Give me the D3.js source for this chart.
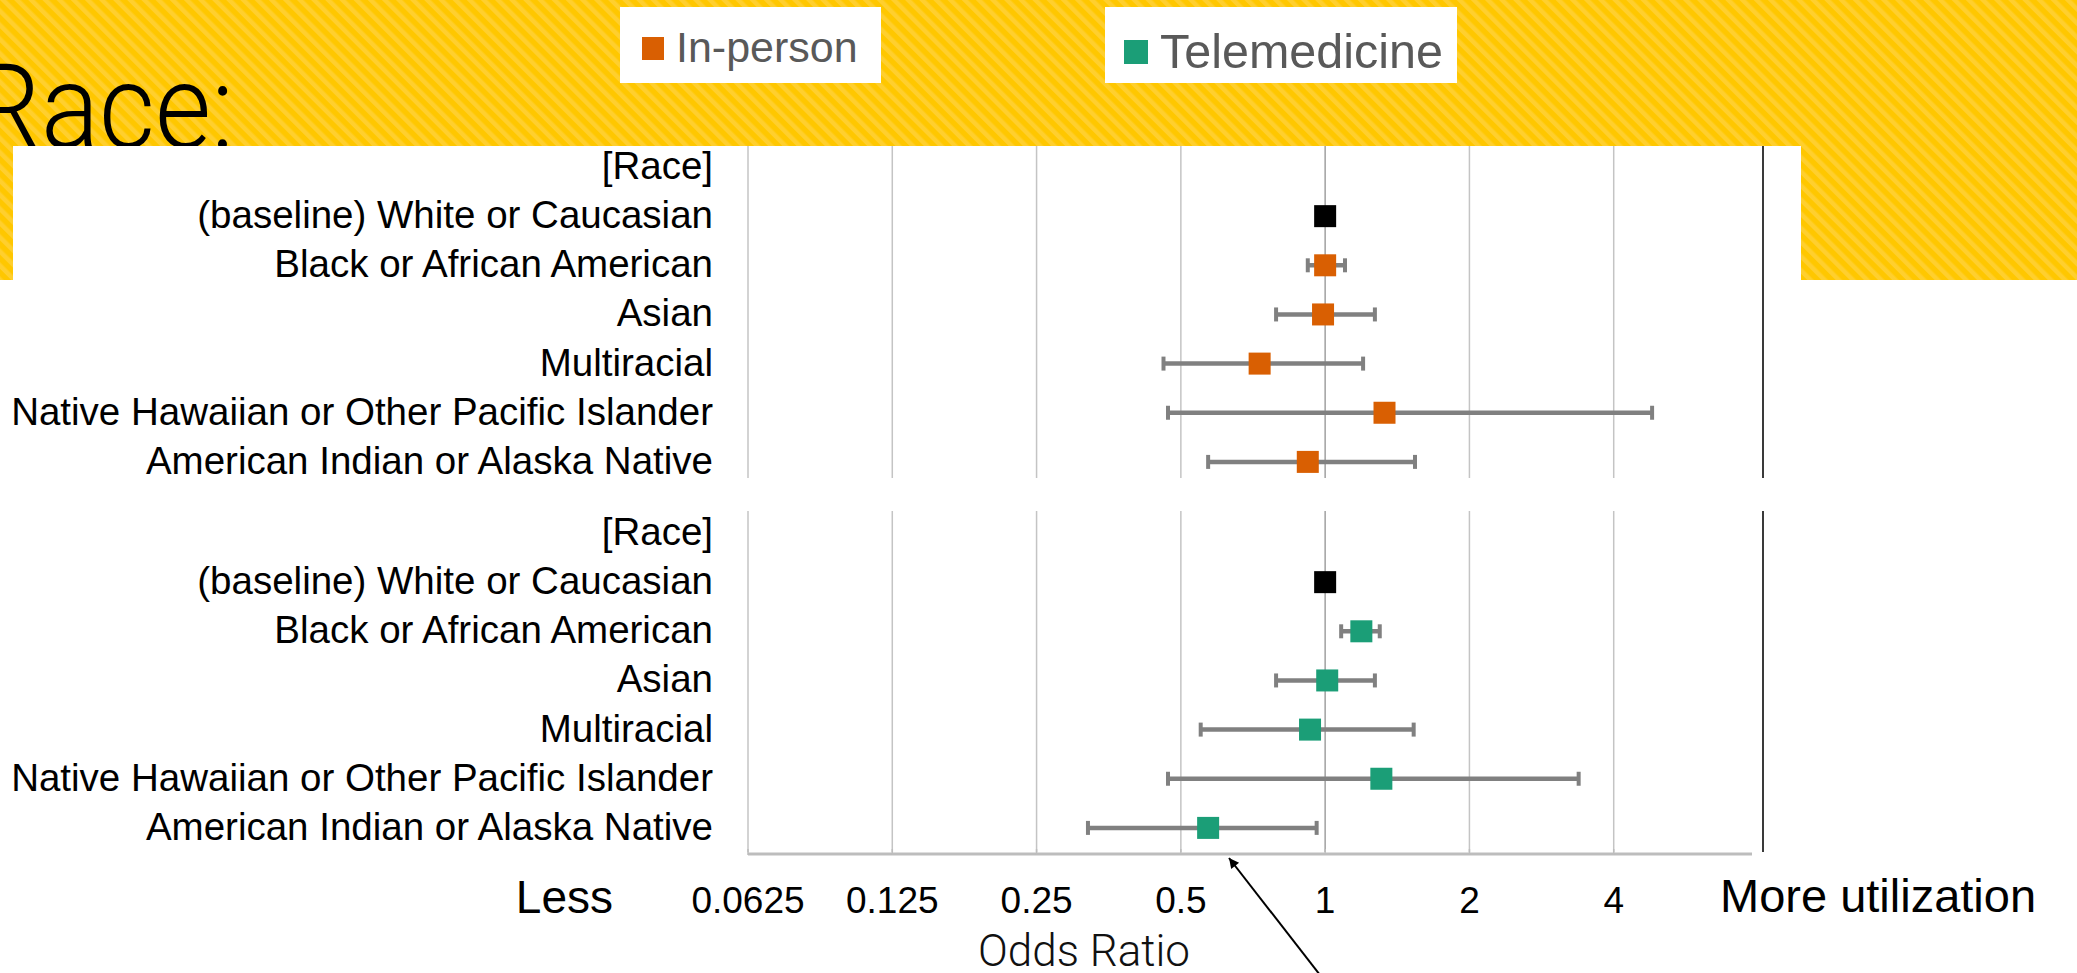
<!DOCTYPE html>
<html>
<head>
<meta charset="utf-8">
<script src="https://cdn.jsdelivr.net/npm/d3@7"></script>
<style>
  html, body { margin: 0; padding: 0; background: #fff; }
  svg { display: block; }
</style>
</head>
<body>
<svg id="chart" width="2077" height="973"></svg>
<script>
// ---- data ----
const rows = [
  "[Race]",
  "(baseline) White or Caucasian",
  "Black or African American",
  "Asian",
  "Multiracial",
  "Native Hawaiian or Other Pacific Islander",
  "American Indian or Alaska Native"
];

// In-person visits: odds ratio with 95% CI
const inPersonOR   = [null, 1.00, 1.00, 0.99, 0.73, 1.33, 0.92];
const inPersonLow  = [null, null, 0.92, 0.79, 0.46, 0.47, 0.57];
const inPersonHigh = [null, null, 1.10, 1.27, 1.20, 4.81, 1.54];

// Telemedicine visits: odds ratio with 95% CI
const teleOR   = [null, 1.00, 1.19, 1.01, 0.93, 1.31, 0.57];
const teleLow  = [null, null, 1.08, 0.79, 0.55, 0.47, 0.32];
const teleHigh = [null, null, 1.30, 1.27, 1.53, 3.38, 0.96];

const tickValues = [0.0625, 0.125, 0.25, 0.5, 1, 2, 4];
const tickLabels = ["0.0625", "0.125", "0.25", "0.5", "1", "2", "4"];

const seriesNames = ["In-person", "Telemedicine"];
const seriesColors = ["#D95F02", "#1B9E77"];
const baselineColor = "#000000";

// ---- layout ----
const W = 2077, H = 973;
const svg = d3.select("#chart");
const font = "'Liberation Sans', Arial, sans-serif";
const thinFont = "Roboto, 'Open Sans', sans-serif";

const x = d3.scaleLog().base(2).domain([0.0625, 8]).range([748, 1758]);
const frameRight = 1763;
const rowStep = 49.15;

const panels = [
  { name: seriesNames[0], color: seriesColors[0], or: inPersonOR, lo: inPersonLow, hi: inPersonHigh,
    first: 167, gridTop: 146, gridBottom: 478 },
  { name: seriesNames[1], color: seriesColors[1], or: teleOR, lo: teleLow, hi: teleHigh,
    first: 533, gridTop: 511, gridBottom: 852 }
];

// ---- striped header background ----
const defs = svg.append("defs");
const pat = defs.append("pattern")
  .attr("id", "stripes")
  .attr("patternUnits", "userSpaceOnUse")
  .attr("width", 10).attr("height", 10)
  .attr("patternTransform", "rotate(-45)");
pat.append("rect").attr("width", 10).attr("height", 10).attr("fill", "#FFC700");
pat.append("rect").attr("width", 4.5).attr("height", 10).attr("fill", "#FFCF2E");

defs.append("marker")
  .attr("id", "arrowhead")
  .attr("viewBox", "0 0 10 10")
  .attr("refX", 10).attr("refY", 5)
  .attr("markerWidth", 9).attr("markerHeight", 5)
  .attr("orient", "auto")
  .append("path").attr("d", "M0,0 L10,5 L0,10 z").attr("fill", "#000");

svg.append("rect").attr("x", 0).attr("y", 0).attr("width", W).attr("height", 280)
  .attr("fill", "url(#stripes)");

// slide title
svg.append("text")
  .attr("transform", "translate(234,148) scale(0.92,1)")
  .attr("text-anchor", "end")
  .attr("font-family", thinFont)
  .attr("font-weight", 300)
  .attr("font-size", 118)
  .attr("fill", "#000")
  .text("Race:");

// legend boxes
const legend = [
  { label: seriesNames[0], color: seriesColors[0], box: [620, 7, 261, 76], sq: [642, 37, 22, 23], tx: 676, ty: 62, fs: 43 },
  { label: seriesNames[1], color: seriesColors[1], box: [1105, 7, 352, 76], sq: [1124, 40, 24, 24], tx: 1160, ty: 68, fs: 48.5 }
];
legend.forEach(l => {
  svg.append("rect").attr("x", l.box[0]).attr("y", l.box[1]).attr("width", l.box[2]).attr("height", l.box[3]).attr("fill", "#fff");
  svg.append("rect").attr("x", l.sq[0]).attr("y", l.sq[1]).attr("width", l.sq[2]).attr("height", l.sq[3]).attr("fill", l.color);
  svg.append("text").attr("x", l.tx).attr("y", l.ty)
    .attr("font-family", font).attr("font-size", l.fs).attr("fill", "#595959")
    .text(l.label);
});

// white chart sheet
svg.append("rect").attr("x", 13).attr("y", 146).attr("width", 1788).attr("height", H - 146).attr("fill", "#fff");

// ---- panels ----
panels.forEach(p => {
  const y = d3.scalePoint().domain(rows).range([p.first, p.first + rowStep * (rows.length - 1)]);
  const g = svg.append("g");

  // vertical gridlines
  g.selectAll("line.grid").data(tickValues).join("line")
    .attr("class", "grid")
    .attr("x1", d => x(d)).attr("x2", d => x(d))
    .attr("y1", p.gridTop).attr("y2", p.gridBottom)
    .attr("stroke", d => d === 1 ? "#A0A0A0" : "#C4C4C4")
    .attr("stroke-width", 1.5);

  // right frame
  g.append("line")
    .attr("x1", frameRight).attr("x2", frameRight)
    .attr("y1", p.gridTop).attr("y2", p.gridBottom)
    .attr("stroke", "#3A3A3A").attr("stroke-width", 2);

  // row labels
  g.selectAll("text.row").data(rows).join("text")
    .attr("class", "row")
    .attr("x", 713).attr("y", d => y(d))
    .attr("dy", "0.31em")
    .attr("text-anchor", "end")
    .attr("font-family", font).attr("font-size", 38.5).attr("fill", "#000")
    .text(d => d);

  const pts = rows.map((r, i) => ({ row: r, or: p.or[i], lo: p.lo[i], hi: p.hi[i], baseline: i === 1 }))
    .filter(d => d.or != null);

  // confidence intervals
  const ci = pts.filter(d => d.lo != null);
  g.selectAll("line.ci").data(ci).join("line")
    .attr("class", "ci")
    .attr("x1", d => x(d.lo)).attr("x2", d => x(d.hi))
    .attr("y1", d => y(d.row)).attr("y2", d => y(d.row))
    .attr("stroke", "#808080").attr("stroke-width", 4.5);
  ["lo", "hi"].forEach(k => {
    g.selectAll("line.cap-" + k).data(ci).join("line")
      .attr("class", "cap-" + k)
      .attr("x1", d => x(d[k])).attr("x2", d => x(d[k]))
      .attr("y1", d => y(d.row) - 7).attr("y2", d => y(d.row) + 7)
      .attr("stroke", "#808080").attr("stroke-width", 4);
  });

  // point estimates
  const s = 22;
  g.selectAll("rect.pt").data(pts).join("rect")
    .attr("class", "pt")
    .attr("x", d => x(d.or) - s / 2).attr("y", d => y(d.row) - s / 2)
    .attr("width", s).attr("height", s)
    .attr("fill", d => d.baseline ? baselineColor : p.color);
});

// ---- x axis ----
const axisY = 854;
svg.append("line")
  .attr("x1", x(0.0625)).attr("x2", 1752)
  .attr("y1", axisY).attr("y2", axisY)
  .attr("stroke", "#BDBDBD").attr("stroke-width", 3);
svg.selectAll("line.tick").data(tickValues).join("line")
  .attr("class", "tick")
  .attr("x1", d => x(d)).attr("x2", d => x(d))
  .attr("y1", axisY - 5).attr("y2", axisY + 1)
  .attr("stroke", "#BDBDBD").attr("stroke-width", 1.5);
svg.selectAll("text.tick").data(tickValues).join("text")
  .attr("class", "tick")
  .attr("x", d => x(d)).attr("y", 913)
  .attr("text-anchor", "middle")
  .attr("font-family", font).attr("font-size", 37).attr("fill", "#000")
  .text((d, i) => tickLabels[i]);

svg.append("text")
  .attr("x", 613).attr("y", 913).attr("text-anchor", "end")
  .attr("font-family", font).attr("font-size", 46).attr("fill", "#000")
  .text("Less");
svg.append("text")
  .attr("x", 1720).attr("y", 912)
  .attr("font-family", font).attr("font-size", 47).attr("fill", "#000")
  .text("More utilization");
svg.append("text")
  .attr("x", 1084).attr("y", 966).attr("text-anchor", "middle")
  .attr("font-family", thinFont).attr("font-weight", 300).attr("font-size", 44).attr("fill", "#111")
  .text("Odds Ratio");

// callout arrow pointing at the telemedicine estimate for American Indian or Alaska Native
svg.append("line")
  .attr("x1", 1320).attr("y1", 975)
  .attr("x2", 1229).attr("y2", 858)
  .attr("stroke", "#000").attr("stroke-width", 2)
  .attr("marker-end", "url(#arrowhead)");
</script>
</body>
</html>
